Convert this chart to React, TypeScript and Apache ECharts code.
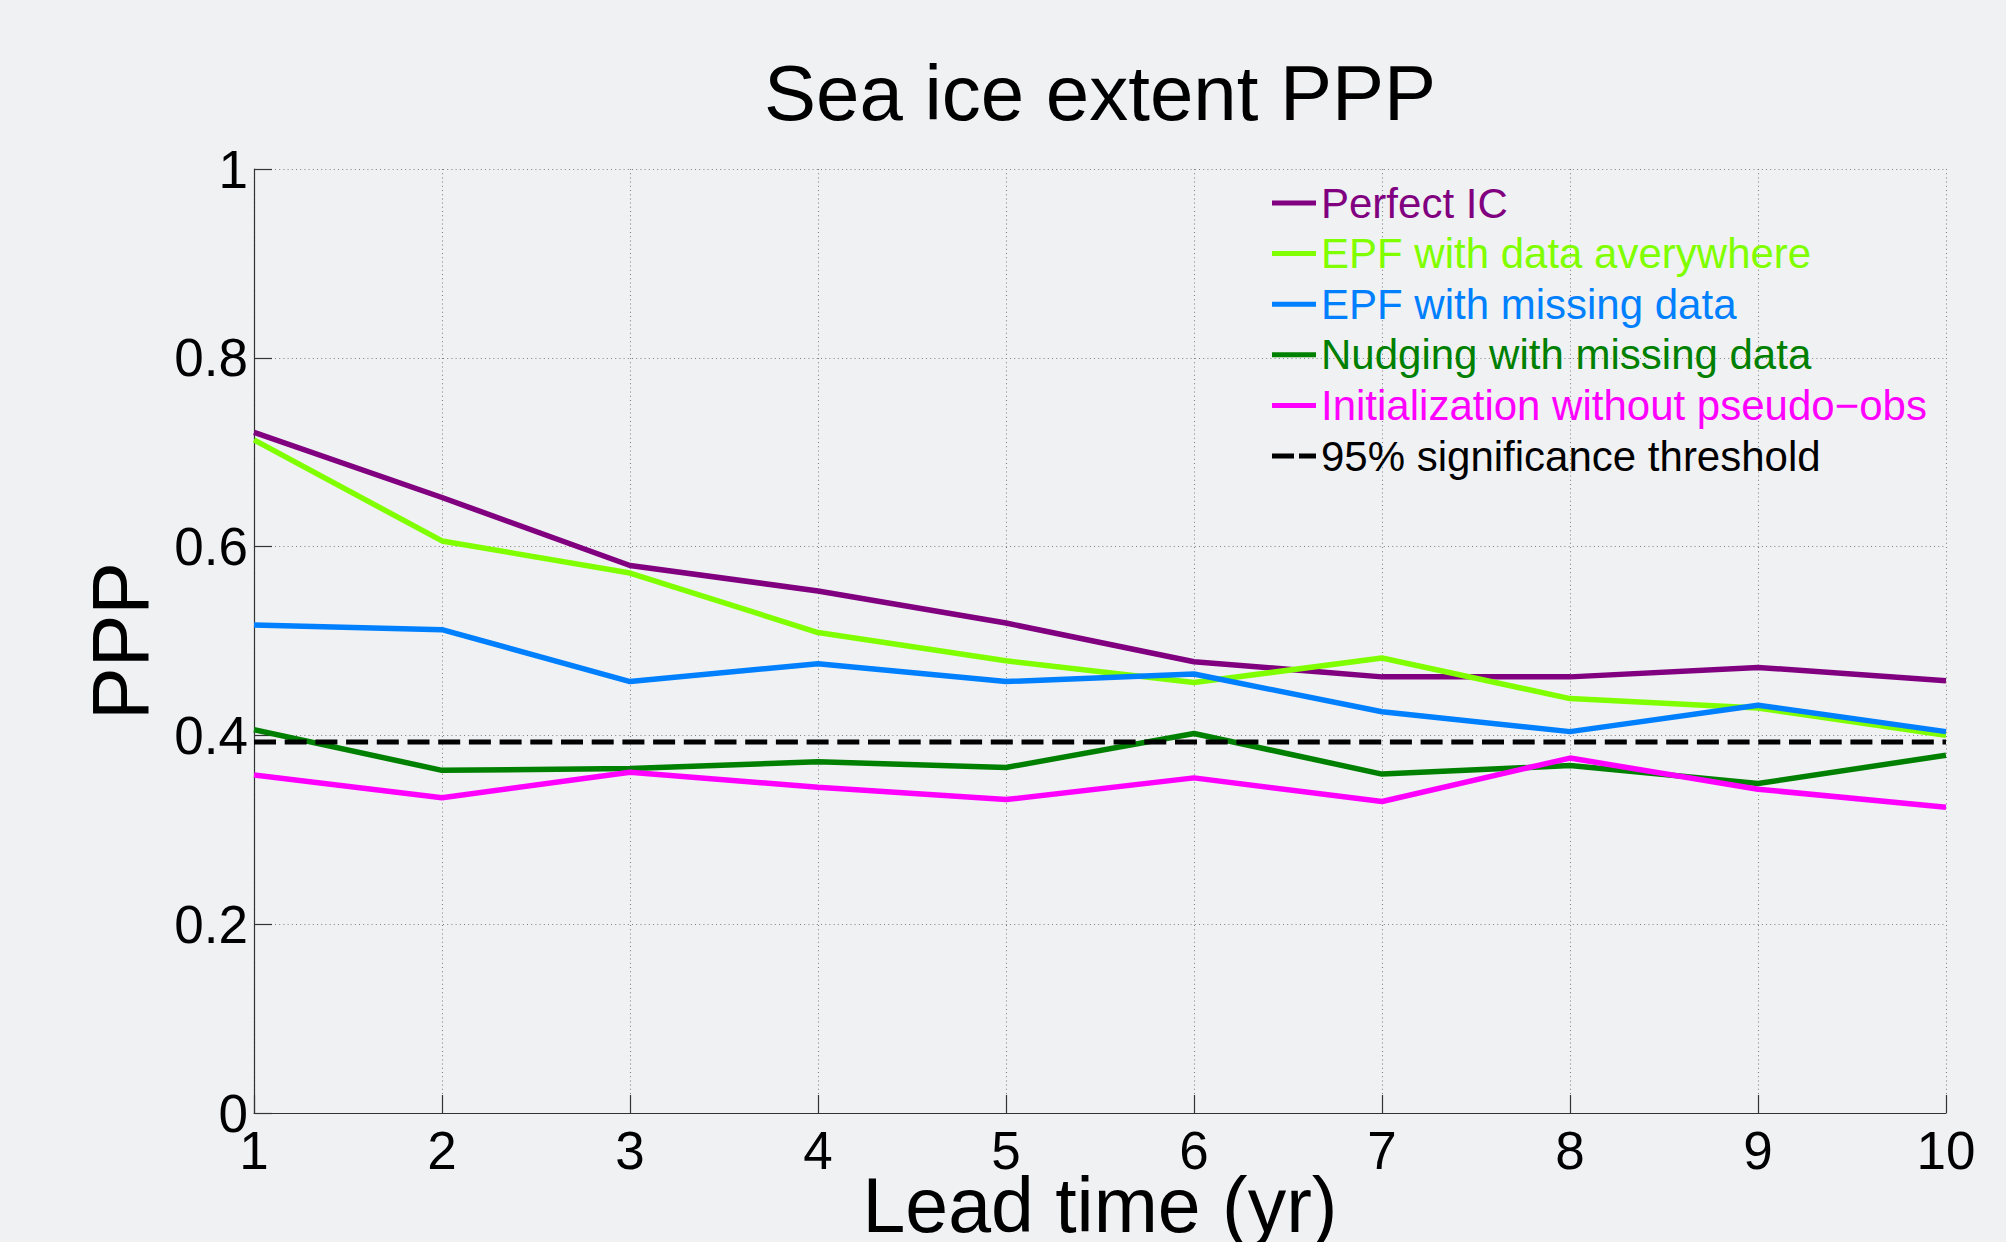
import React, { useEffect, useRef } from "react";
import * as echarts from "echarts";

const leadTime = [1, 2, 3, 4, 5, 6, 7, 8, 9, 10];
const perfectIC = [0.721, 0.652, 0.58, 0.553, 0.519, 0.478, 0.462, 0.462, 0.472, 0.458];
const epfEverywhere = [0.713, 0.606, 0.572, 0.509, 0.479, 0.456, 0.482, 0.439, 0.429, 0.4];
const epfMissing = [0.517, 0.512, 0.457, 0.476, 0.457, 0.465, 0.425, 0.404, 0.432, 0.404];
const nudgingMissing = [0.406, 0.363, 0.365, 0.372, 0.366, 0.402, 0.359, 0.368, 0.349, 0.379];
const noPseudoObs = [0.358, 0.334, 0.361, 0.345, 0.332, 0.355, 0.33, 0.376, 0.343, 0.324];
const thresholdValue = 0.393;

const seriesNames = [
  "Perfect IC",
  "EPF with data averywhere",
  "EPF with missing data",
  "Nudging with missing data",
  "Initialization without pseudo\u2212obs",
  "95% significance threshold",
];
const seriesColors = ["#800080", "#80ff00", "#0080ff", "#008000", "#ff00ff", "#000000"];
const seriesValues = [perfectIC, epfEverywhere, epfMissing, nudgingMissing, noPseudoObs];

const FONT = "'Liberation Sans', Arial, Helvetica, sans-serif";
const BG = "#f0f1f3";

export default function App() {
  const ref = useRef<HTMLDivElement>(null);

  useEffect(() => {
    document.body.style.margin = "0";
    document.body.style.background = BG;
    const chart = echarts.init(ref.current!, undefined, { renderer: "svg" });

    const lineSeries: any[] = seriesValues.map((vals, i) => ({
      name: seriesNames[i],
      type: "line",
      data: leadTime.map((x, j) => [x, vals[j]]),
      symbol: "none",
      showSymbol: false,
      lineStyle: { color: seriesColors[i], width: 5.5 },
      itemStyle: { color: seriesColors[i] },
      z: 3 + i,
    }));
    lineSeries.push({
      name: seriesNames[5],
      type: "line",
      data: [
        [leadTime[0], thresholdValue],
        [leadTime[leadTime.length - 1], thresholdValue],
      ],
      symbol: "none",
      showSymbol: false,
      lineStyle: { color: "#000", width: 5.2, type: [22, 8.7] },
      itemStyle: { color: "#000" },
      z: 10,
    });

    const axisCommon = {
      axisLine: { show: true, onZero: false, lineStyle: { color: "#333", width: 1.2 } },
      axisTick: { show: true, inside: true, length: 18, lineStyle: { color: "#333", width: 1.2 } },
      splitLine: { show: true, lineStyle: { color: "#808080", width: 1.1, type: [1, 3.2] } },
      axisLabel: { color: "#000", fontSize: 53, fontFamily: FONT },
      nameTextStyle: { color: "#000", fontSize: 78, fontFamily: FONT },
    };

    chart.setOption({
      animation: false,
      backgroundColor: BG,
      textStyle: { fontFamily: FONT },
      title: {
        text: "Sea ice extent PPP",
        left: 764,
        top: 54,
        padding: 0,
        textStyle: { fontSize: 78, fontWeight: "normal", color: "#000", fontFamily: FONT },
      },
      grid: {
        left: 254,
        right: 60,
        top: 169,
        bottom: 129,
        containLabel: false,
        outerBoundsMode: "none",
      },
      legend: {
        orient: "vertical",
        left: 1272,
        top: 181,
        padding: 0,
        itemWidth: 44,
        itemHeight: 5,
        itemGap: 6.6,
        symbolKeepAspect: false,
        textStyle: { fontSize: 42, lineHeight: 44, fontFamily: FONT },
        data: seriesNames.map((n, i) => ({
          name: n,
          icon: i === 5 ? "path://M0,0H22V5H0Z M27,0H44V5H27Z" : "rect",
          itemStyle: { color: seriesColors[i] },
          textStyle: { color: seriesColors[i], fontSize: 42, lineHeight: 44 },
        })),
      },
      xAxis: {
        type: "value",
        min: 1,
        max: 10,
        interval: 1,
        name: "Lead time (yr)",
        nameLocation: "middle",
        nameGap: 53,
        nameMoveOverlap: false,
        ...axisCommon,
        axisLabel: { ...axisCommon.axisLabel, margin: 11, showMinLabel: true, showMaxLabel: true, hideOverlap: false },
        nameTextStyle: { ...axisCommon.nameTextStyle, fontSize: 77 },
      },
      yAxis: {
        type: "value",
        min: 0,
        max: 1,
        interval: 0.2,
        name: "PPP",
        nameLocation: "middle",
        nameGap: 94,
        nameMoveOverlap: false,
        ...axisCommon,
        axisLabel: { ...axisCommon.axisLabel, margin: 6, showMinLabel: true, showMaxLabel: true, hideOverlap: false },
        nameTextStyle: { ...axisCommon.nameTextStyle, fontSize: 79 },
      },
      tooltip: { show: false },
      series: lineSeries,
    });

    return () => chart.dispose();
  }, []);

  return <div ref={ref} style={{ width: 2006, height: 1242 }} />;
}
